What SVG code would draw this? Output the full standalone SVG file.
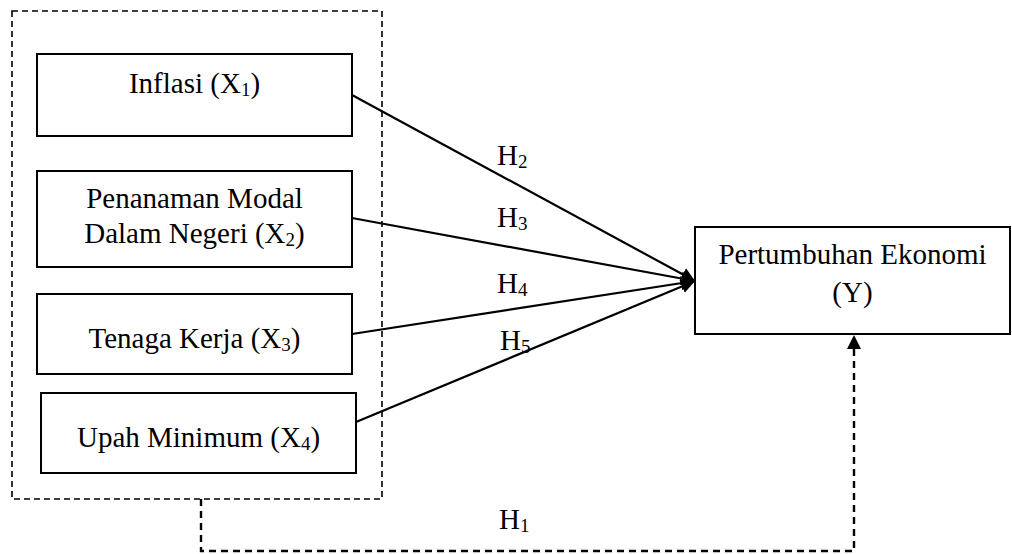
<svg xmlns="http://www.w3.org/2000/svg" width="1012" height="554" viewBox="0 0 1012 554">
<style>
.box{fill:#fff;stroke:#000;stroke-width:2}
.t{font-family:"Liberation Serif","Times New Roman",serif;font-size:29px;fill:#000;text-anchor:middle}
.h{font-family:"Liberation Serif","Times New Roman",serif;font-size:29px;fill:#000}
.sub{font-size:19px}
.line{stroke:#000;stroke-width:2.2;fill:none}
.dash{stroke:#000;stroke-width:1.6;fill:none;stroke-dasharray:6,4}
.dash2{stroke:#000;stroke-width:2.4;fill:none;stroke-dasharray:7,5}
</style>
<defs>
<marker id="ah" markerUnits="userSpaceOnUse" markerWidth="16" markerHeight="14" refX="14" refY="7" orient="auto">
<path d="M0,0 L14,7 L0,14 Z" fill="#000"/>
</marker>
</defs>
<rect width="1012" height="554" fill="#fff"/>
<g id="group-x">
<rect class="dash" x="12" y="11" width="370" height="488"/>
</g>
<g id="x1">
<rect class="box" x="37" y="54" width="315" height="82"/>
<text class="t" x="194.5" y="93">Inflasi (X<tspan class="sub" dy="3">1</tspan><tspan dy="-3">)</tspan></text>
</g>
<g id="x2">
<rect class="box" x="37" y="171" width="315" height="96"/>
<text class="t" x="194.5" y="208">Penanaman Modal</text>
<text class="t" x="194.5" y="243">Dalam Negeri (X<tspan class="sub" dy="3">2</tspan><tspan dy="-3">)</tspan></text>
</g>
<g id="x3">
<rect class="box" x="37" y="294" width="315" height="80"/>
<text class="t" x="194.5" y="348">Tenaga Kerja (X<tspan class="sub" dy="3">3</tspan><tspan dy="-3">)</tspan></text>
</g>
<g id="x4">
<rect class="box" x="41" y="393" width="315" height="80"/>
<text class="t" x="198.5" y="447">Upah Minimum (X<tspan class="sub" dy="3">4</tspan><tspan dy="-3">)</tspan></text>
</g>
<g id="y">
<rect class="box" x="695" y="227" width="315" height="107"/>
<text class="t" x="852.5" y="264">Pertumbuhan Ekonomi</text>
<text class="t" x="852.5" y="302">(Y)</text>
</g>
<g id="connectors">
<line class="line" x1="352" y1="95" x2="695" y2="281" marker-end="url(#ah)"/>
<line class="line" x1="352" y1="218" x2="695" y2="281" marker-end="url(#ah)"/>
<line class="line" x1="352" y1="334" x2="695" y2="281" marker-end="url(#ah)"/>
<line class="line" x1="356" y1="422" x2="695" y2="281" marker-end="url(#ah)"/>
<polyline class="dash2" points="201,499 201,551 854,551 854,348"/>
<path d="M847,349 L854,335 L861,349 Z" fill="#000"/>
</g>
<g id="labels">
<text class="h" x="497" y="165">H<tspan class="sub" dy="3">2</tspan></text>
<text class="h" x="497" y="227">H<tspan class="sub" dy="3">3</tspan></text>
<text class="h" x="497" y="293">H<tspan class="sub" dy="3">4</tspan></text>
<text class="h" x="500" y="350">H<tspan class="sub" dy="3">5</tspan></text>
<text class="h" x="499" y="529">H<tspan class="sub" dy="3">1</tspan></text>
</g>
</svg>
